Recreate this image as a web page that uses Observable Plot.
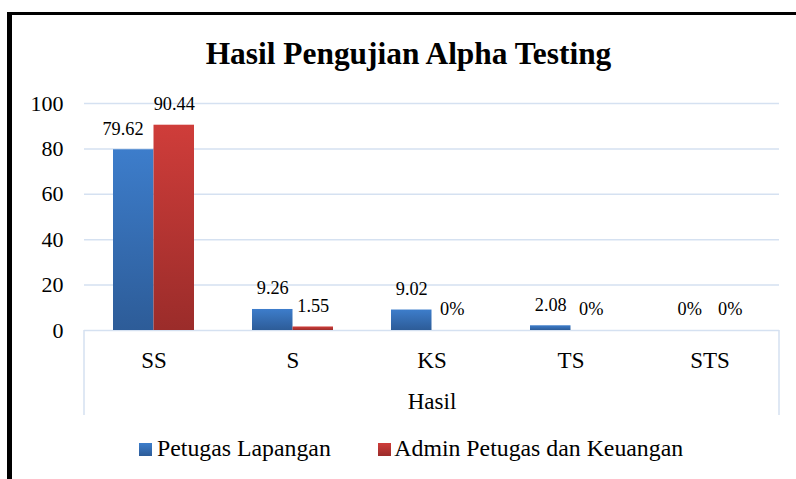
<!DOCTYPE html>
<html><head><meta charset="utf-8">
<script src="https://cdn.jsdelivr.net/npm/d3@7"></script>
<script src="https://cdn.jsdelivr.net/npm/@observablehq/plot@0.6"></script>
<style>
html,body{margin:0;padding:0;background:#fff;}
#chart{position:relative;width:796px;height:479px;overflow:hidden;font-family:"Liberation Serif","Times New Roman",serif;color:#000;}
#plot{position:absolute;left:0;top:0;}
#frame{position:absolute;left:7px;top:12px;width:1000px;height:1000px;border-top:3px solid #000;border-left:5px solid #000;pointer-events:none;}
#title{position:absolute;left:0;top:38px;width:817px;text-align:center;font-size:31.4px;font-weight:bold;line-height:1;white-space:nowrap;}
#legend{position:absolute;left:139px;top:437.4px;font-size:23.8px;line-height:1;white-space:nowrap;}
.sw{display:inline-block;width:13px;height:13px;}
.sw.blue{background:linear-gradient(#3d7dcb,#2d5c98);margin-right:5px;}
.sw.red{background:linear-gradient(#cf3d3a,#9b2c2a);margin-right:3.5px;margin-left:47px;}
</style></head>
<body><div id="chart"><div id="plot"></div><div id="frame"></div><div id="title"></div><div id="legend"></div></div>
<script>
// ---- data ----
const categories = ["SS", "S", "KS", "TS", "STS"];
const seriesNames = ["Petugas Lapangan", "Admin Petugas dan Keuangan"];
const petugasLapangan = [79.62, 9.26, 9.02, 2.08, 0];
const adminPetugas = [90.44, 1.55, 0, 0, 0];
const petugasLabels = ["79.62", "9.26", "9.02", "2.08", "0%"];
const adminLabels = ["90.44", "1.55", "0%", "0%", "0%"];
const yTicks = [0, 20, 40, 60, 80, 100];
const chartTitle = "Hasil Pengujian Alpha Testing";
const xTitle = "Hasil";

// ---- styles ----
const gridColor = "#d5e1f1";
const font = "'Liberation Serif','Times New Roman',serif";

const rows = categories.map((c, i) => ({
  category: c,
  petugas: petugasLapangan[i],
  admin: adminPetugas[i],
  petugasLabel: petugasLabels[i],
  adminLabel: adminLabels[i]
}));

const halfGroup = 40.5;

const endLines = (index, scales, values, dimensions) => {
  const {width, height, marginLeft, marginRight, marginBottom} = dimensions;
  const y0 = height - marginBottom;
  const g = d3.create("svg:g").attr("stroke", gridColor).attr("stroke-width", 1.5);
  for (const x of [marginLeft, width - marginRight]) {
    g.append("line").attr("x1", x).attr("x2", x).attr("y1", y0).attr("y2", y0 + 85);
  }
  return g.node();
};

const svg = Plot.plot({
  width: 796,
  height: 479,
  marginLeft: 84,
  marginRight: 17,
  marginTop: 103,
  marginBottom: 149,
  style: {fontFamily: font, fontSize: "22px", background: "transparent", color: "#000", overflow: "visible"},
  x: {domain: categories, paddingInner: 0.4164, paddingOuter: 0.2082, align: 0.5, axis: null},
  y: {domain: [0, 100], axis: null},
  marks: [
    Plot.gridY(yTicks, {stroke: gridColor, strokeOpacity: 1, strokeWidth: 1.5}),
    endLines,
    Plot.barY(rows, {x: "category", y: "petugas", fill: "url(#gradBlue)", insetLeft: 0, insetRight: halfGroup}),
    Plot.barY(rows, {x: "category", y: "admin", fill: "url(#gradRed)", insetLeft: halfGroup, insetRight: 0}),
    Plot.text(rows.slice(0, 1), {x: "category", y: "petugas", text: "petugasLabel", dx: -31, dy: -21, fontSize: 18.3, fill: "#000"}),
    Plot.text(rows.slice(1), {x: "category", y: "petugas", text: "petugasLabel", dx: -20.25, dy: -21, fontSize: 18.3, fill: "#000"}),
    Plot.text(rows, {x: "category", y: "admin", text: "adminLabel", dx: 20.25, dy: -21, fontSize: 18.3, fill: "#000"}),
    Plot.axisY({ticks: yTicks, tickSize: 0, tickPadding: 21, fontSize: 22, label: null}),
    Plot.axisX({tickSize: 0, tickPadding: 21, fontSize: 23, label: null}),
    Plot.text([xTitle], {frameAnchor: "bottom", lineAnchor: "middle", dy: 71, fontSize: 23, fill: "#000"})
  ]
});

const defs = d3.select(svg).insert("defs", ":first-child");
function grad(id, top, bottom) {
  const g = defs.append("linearGradient").attr("id", id)
    .attr("x1", 0).attr("y1", 0).attr("x2", 0).attr("y2", 1);
  g.append("stop").attr("offset", "0%").attr("stop-color", top);
  g.append("stop").attr("offset", "100%").attr("stop-color", bottom);
}
grad("gradBlue", "#3d7dcb", "#2d5c98");
grad("gradRed", "#cf3d3a", "#9b2c2a");

document.getElementById("plot").appendChild(svg);
document.getElementById("title").textContent = chartTitle;

const legend = d3.select("#legend");
legend.append("span").attr("class", "sw blue");
legend.append("span").text(seriesNames[0]);
legend.append("span").attr("class", "sw red");
legend.append("span").text(seriesNames[1]);
</script></body></html>
